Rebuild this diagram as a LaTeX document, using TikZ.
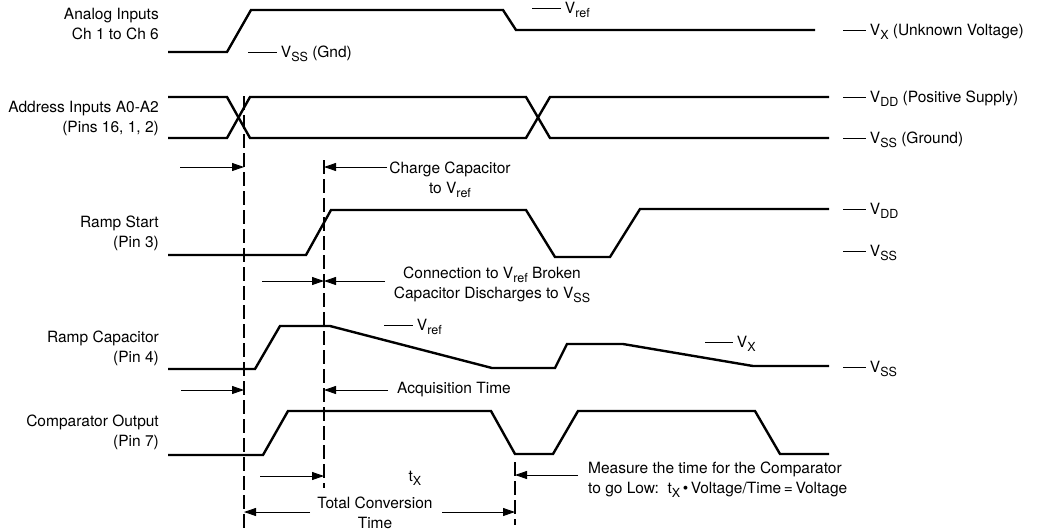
\documentclass[tikz,border=0pt]{standalone}
\usepackage{fontspec}
\setmainfont{TeX Gyre Heros}
\usetikzlibrary{arrows.meta, positioning, calc}
\newcommand{\Sb}[1]{\raisebox{-0.45ex}{\fontsize{12.5}{13}\selectfont#1}}
\newcommand{\Vs}[1]{V\Sb{#1}}

\begin{document}
\begin{tikzpicture}[x=1pt, y=-1pt,
    every node/.style={font=\fontsize{15.5}{20}\selectfont, inner sep=0pt},
    wave/.style={line width=2.4pt},
    guide/.style={line width=1.4pt, dash pattern=on 14pt off 5pt},
    dim/.style={line width=0.9pt, -{Triangle[length=12pt, width=8pt]}},
    tick/.style={line width=0.9pt},
    sig/.style={anchor=east, align=right},
    lvl/.style={anchor=base west, xshift=3.5pt, yshift=-5.6pt},
    note/.style={align=center}]
  \useasboundingbox (0,0) rectangle (1045,531);

  \node[sig] (inA) at (159,24) {Analog Inputs\\Ch 1 to Ch 6};
  \node[sig] (inB) at (159,118) {Address Inputs A0-A2\\(Pins 16, 1, 2)};
  \node[sig] (inC) at (159,233) {Ramp Start\\(Pin 3)};
  \node[sig] (inD) at (159,348) {Ramp Capacitor\\(Pin 4)};
  \node[sig] (inE) at (159,432) {Comparator Output\\(Pin 7)};

  \draw[wave] (168,52) -- (227,52) -- (251,10) -- (503,10) -- (516,30) -- (815,30);
  \draw[wave] (168,97) -- (227,97) -- (250,138) -- (526,138) -- (550,97) -- (829,97);
  \draw[wave] (168,138) -- (227,138) -- (250,97) -- (526,97) -- (550,138) -- (829,138);
  \draw[wave] (168,255) -- (306,255) -- (331,210) -- (526,210) -- (555,257) -- (610,257) -- (640,209) -- (829,209);
  \draw[wave] (168,369) -- (255,369) -- (280,326) -- (330,326) -- (492,368) -- (555,368) -- (567,344) -- (623,344) -- (753,366) -- (829,366);
  \draw[wave] (168,455) -- (263,455) -- (288,411) -- (491,411) -- (515,454) -- (553,454) -- (578,411) -- (755,411) -- (780,454) -- (829,454);

  \foreach \x/\y/\n/\t in {843/30/vx/{\Vs{X} (Unknown Voltage)}, 843/97/vddB/{\Vs{DD} (Positive Supply)},
      843/138/vssB/{\Vs{SS} (Ground)}, 843/209/vddC/{\Vs{DD}}, 843/251/vssC/{\Vs{SS}}, 843/367/vssD/{\Vs{SS}}}
    \draw[tick] (\x,\y) -- ++(23,0) node[lvl] (\n) {\t};
  \draw[tick] (532,8) -- (561,8) node[lvl] (vrefA) {\Vs{ref}};
  \draw[tick] (248,52) -- (277,52) node[lvl] (vssA) {\Vs{SS} (Gnd)};
  \draw[tick] (384,325) -- (413,325) node[lvl] (vrefD) {\Vs{ref}};
  \draw[tick] (705,342) -- (733,342) node[lvl] (vxD) {\Vs{X}};

  \coordinate (g1) at (244,96);  \coordinate (g1b) at (244,531);
  \coordinate (g2) at (324,160); \coordinate (g2b) at (324,488);
  \coordinate (g3) at (515,462); \coordinate (g3b) at (515,525);
  \draw[guide] (g1) -- (g1b);
  \draw[guide] (g2) -- (g2b);
  \draw[guide] (g3) -- (g3b);

  \coordinate (p1) at (180,167);
  \coordinate (p2) at (387,167);
  \draw[dim] (p1) -- (p1 -| g1);
  \draw[dim] (p2) -- (p2 -| g2);
  \node[note] (chg) at (450,180) {Charge Capacitor\\to \Vs{ref}};

  \coordinate (p3) at (262,281);
  \coordinate (p4) at (385,281);
  \draw[dim] (p3) -- (p3 -| g2);
  \draw[dim] (p4) -- (p4 -| g2);
  \node[note] (brk) at (492,285) {Connection to \Vs{ref} Broken\\Capacitor Discharges to \Vs{SS}};

  \coordinate (p5) at (181,390);
  \coordinate (p6) at (388,390);
  \draw[dim] (p5) -- (p5 -| g1);
  \draw[dim] (p6) -- (p6 -| g2);
  \node[anchor=west] (acq) at (397,390) {Acquisition Time};

  \coordinate (p7) at (260,476);
  \draw[dim] (p7) -- (p7 -| g2);
  \node (tx) at (415,478) {t\Sb{X}};

  \coordinate (p8) at (578,475);
  \draw[dim] (p8) -- (p8 -| g3);
  \node[anchor=west, align=left] (meas) at (588,480) {Measure the time for the Comparator\\to go Low:\ \ t\Sb{X}\,•\,Voltage/Time\,=\,Voltage};

  \coordinate (p9) at (310,512);
  \coordinate (p10) at (442,512);
  \draw[dim] (p9) -- (p9 -| g1);
  \draw[dim] (p10) -- (p10 -| g3);
  \node[note] (tot) at (375,513) {Total Conversion\\Time};
\end{tikzpicture}
\end{document}
